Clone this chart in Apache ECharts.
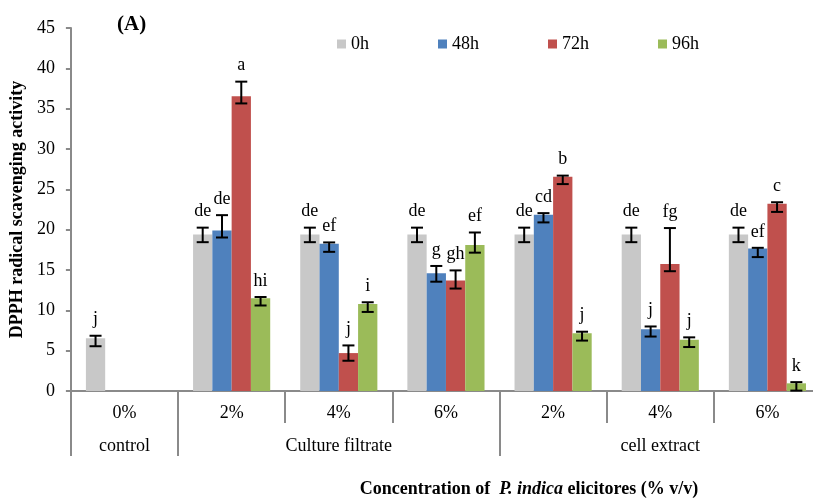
<!DOCTYPE html>
<html>
<head>
<meta charset="utf-8">
<script src="https://cdn.jsdelivr.net/npm/echarts@6/dist/echarts.min.js"></script>
<style>
  html, body { margin: 0; padding: 0; background: #fff; overflow: hidden; }
  /* the plot runs slightly past the right edge of the window */
  #chart { width: 821px; height: 501px; }
</style>
</head>
<body>
<div id="chart"></div>
<script>
// Elicitor concentrations (first axis level) and elicitor source (second level)
const concentrations = ['0%', '2%', '4%', '6%', '2%', '4%', '6%'];
const sources = ['control', '', 'Culture filtrate', '', '', 'cell extract', ''];
const timePoints = ['0h', '48h', '72h', '96h'];

// Mean DPPH radical scavenging activity per time point
const act0h  = [6.55, 19.4, 19.4, 19.4, 19.4, 19.4, 19.4];
const act48h = [null, 19.9, 18.25, 14.6, 21.85, 7.65, 17.65];
const act72h = [null, 36.55, 4.7, 13.7, 26.55, 15.75, 23.2];
const act96h = [null, 11.5, 10.8, 18.1, 7.15, 6.35, 0.95];

// Error bar extents above / below each mean
const errUp0h  = [0.3, 0.85, 0.85, 0.85, 0.85, 0.85, 0.85];
const errDn0h  = [1.0, 0.95, 0.95, 0.95, 0.95, 0.95, 0.95];
const errUp48h = [null, 1.9, 0.17, 0.9, 0.2, 0.35, 0.1];
const errDn48h = [null, 0.87, 1.0, 1.05, 0.95, 0.9, 1.05];
const errUp72h = [null, 1.8, 0.95, 1.25, 0.15, 4.45, 0.2];
const errDn72h = [null, 0.9, 0.95, 1.0, 0.9, 0.9, 1.0];
const errUp96h = [null, 0.15, 0.2, 1.55, 0.2, 0.3, 0.15];
const errDn96h = [null, 0.9, 1.0, 0.95, 0.9, 0.9, 0.9];

// Significance letters (Duncan grouping)
const sig0h  = ['j', 'de', 'de', 'de', 'de', 'de', 'de'];
const sig48h = [null, 'de', 'ef', 'g', 'cd', 'j', 'ef'];
const sig72h = [null, 'a', 'j', 'gh', 'b', 'fg', 'c'];
const sig96h = [null, 'hi', 'i', 'ef', 'j', 'j', 'k'];

const yTicks = { min: 0, max: 45, interval: 5 };

const colors = ['#C8C8C8', '#4F81BD', '#C0504D', '#9BBB59'];
const SERIF = '"Liberation Serif", "Times New Roman", serif';
const AXIS_GREY = '#8a8a8a';
const BAR_SHARE = 0.18;

const means = [act0h, act48h, act72h, act96h];
const errsUp = [errUp0h, errUp48h, errUp72h, errUp96h];
const errsDn = [errDn0h, errDn48h, errDn72h, errDn96h];
const letters = [sig0h, sig48h, sig72h, sig96h];

const chart = echarts.init(document.getElementById('chart'), null, { renderer: 'canvas' });

const barSeries = timePoints.map((name, k) => ({
  name: name,
  type: 'bar',
  xAxisIndex: 0,
  barWidth: (BAR_SHARE * 100) + '%',
  barGap: '0%',
  itemStyle: { color: colors[k] },
  data: means[k].map(v => (v == null ? '-' : v)),
  z: 2
}));

// Error bars with caps plus the significance letter above each one
const errorSeries = timePoints.map((name, k) => ({
  name: 'err-' + name,
  type: 'custom',
  xAxisIndex: 0,
  z: 5,
  clip: false,
  data: means[k].map((v, i) => [i, v == null ? '-' : v]),
  encode: { x: 0, y: 1 },
  renderItem: function (params, api) {
    const i = params.dataIndex;
    const v = means[k][i];
    if (v == null) return null;
    const band = api.size([1, 0])[0];
    const w = band * BAR_SHARE;
    const off = (k - 1.5) * w;
    const top = api.coord([i, v + errsUp[k][i]]);
    const bot = api.coord([i, Math.max(0, v - errsDn[k][i])]);
    const x = top[0] + off;
    const cap = 6;
    const ls = { stroke: '#000', lineWidth: 2 };
    return {
      type: 'group',
      children: [
        { type: 'line', shape: { x1: x, y1: top[1], x2: x, y2: bot[1] }, style: ls },
        { type: 'line', shape: { x1: x - cap, y1: top[1], x2: x + cap, y2: top[1] }, style: ls },
        { type: 'line', shape: { x1: x - cap, y1: bot[1], x2: x + cap, y2: bot[1] }, style: ls },
        {
          type: 'text',
          style: {
            text: letters[k][i],
            x: x,
            y: top[1] - 7,
            align: 'center',
            verticalAlign: 'bottom',
            font: '18px ' + SERIF,
            fill: '#000'
          }
        }
      ]
    };
  }
}));

const option = {
  animation: false,
  backgroundColor: '#fff',
  grid: { left: 70, top: 28, right: 0, height: 363, containLabel: false },
  legend: {
    data: timePoints,
    left: 332,
    top: 30,
    icon: 'rect',
    itemWidth: 9,
    itemHeight: 9,
    itemGap: 69,
    textStyle: { fontFamily: SERIF, fontSize: 18, color: '#000' }
  },
  xAxis: [
    {
      type: 'category',
      data: concentrations,
      position: 'bottom',
      axisLine: { show: true, lineStyle: { color: AXIS_GREY, width: 2 } },
      axisTick: { show: true, interval: 0, length: 32, lineStyle: { color: AXIS_GREY, width: 2 } },
      axisLabel: { interval: 0, margin: 13, fontFamily: SERIF, fontSize: 18, color: '#000' },
      splitLine: { show: false }
    },
    {
      type: 'category',
      data: sources,
      position: 'bottom',
      axisLine: { show: false },
      axisTick: {
        show: true,
        length: 65,
        interval: function (idx) { return idx === 0 || idx === 1 || idx === 4; },
        lineStyle: { color: AXIS_GREY, width: 2 }
      },
      axisLabel: { interval: 0, margin: 46, fontFamily: SERIF, fontSize: 18, color: '#000' },
      splitLine: { show: false }
    }
  ],
  yAxis: {
    type: 'value',
    min: yTicks.min,
    max: yTicks.max,
    interval: yTicks.interval,
    name: 'DPPH radical scavenging activity',
    nameLocation: 'middle',
    nameRotate: 90,
    nameGap: 34,
    nameTextStyle: { fontFamily: SERIF, fontSize: 18, fontWeight: 'bold', color: '#000' },
    axisLine: { show: true, lineStyle: { color: AXIS_GREY, width: 2 } },
    axisTick: { show: true, length: 5, lineStyle: { color: AXIS_GREY, width: 2 } },
    axisLabel: { margin: 16, fontFamily: SERIF, fontSize: 18, color: '#000' },
    splitLine: { show: false }
  },
  graphic: [
    {
      type: 'text',
      x: 117,
      y: 24.5,
      style: { text: '(A)', font: 'bold 21px ' + SERIF, fill: '#000', verticalAlign: 'middle' }
    },
    {
      type: 'text',
      x: 529,
      y: 489,
      style: {
        text: '{b|Concentration of  }{bi|P. indica}{b| elicitores (% v/v)}',
        align: 'center',
        verticalAlign: 'middle',
        rich: {
          b: { font: 'bold 18px ' + SERIF, fill: '#000' },
          bi: { font: 'italic bold 18px ' + SERIF, fill: '#000' }
        }
      }
    }
  ],
  series: barSeries.concat(errorSeries)
};

chart.setOption(option);
</script>
</body>
</html>
